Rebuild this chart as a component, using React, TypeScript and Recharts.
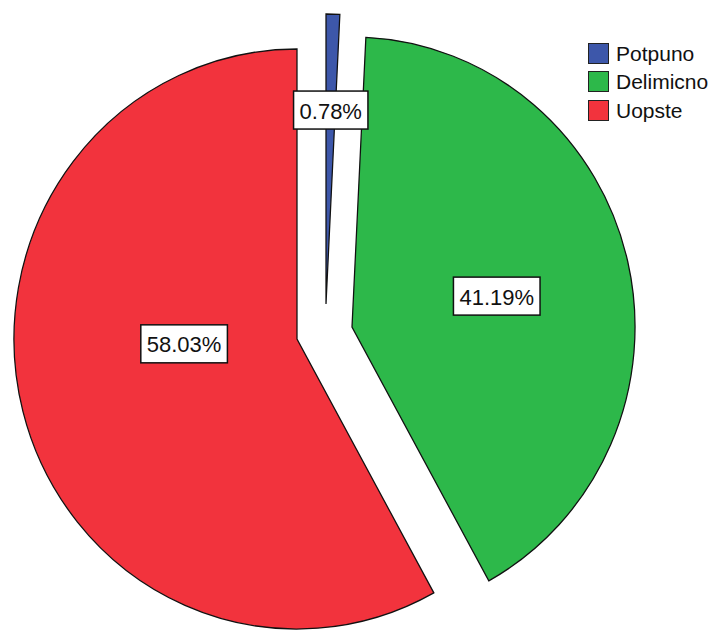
import React from 'react';
import { PieChart, Pie, Cell, Legend } from 'recharts';

const categories = ['Potpuno', 'Delimicno', 'Uopste'];
const values = [0.78, 41.19, 58.03];
const labels = ['0.78%', '41.19%', '58.03%'];

const COLORS = ['#3D57AA', '#2DB84A', '#F2333D'];
const CENTERS = [
  { cx: 326, cy: 304 },
  { cx: 352, cy: 327 },
  { cx: 297, cy: 339 },
];
const RADIUS = 290;
const X_SCALE = 0.976;
const LABEL_R = [194, 148, 113];
const LABEL_SHIFT = [0, -1, -12];
const FONT = '"Liberation Sans", Arial, sans-serif';
const LABEL_FONT = 22;

const data = categories.map((name, i) => ({ name, value: values[i], label: labels[i] }));

const charW = (s: string) => {
  let w = 0;
  for (const c of s) {
    if (c === '.') w += 0.278;
    else if (c === '%') w += 0.889;
    else w += 0.556;
  }
  return w;
};

const makeLabel = (own: number) => (props: any) => {
  if (props.index !== own) return null;
  const { cx, cy, midAngle } = props;
  const ang = ((midAngle + LABEL_SHIFT[own]) * Math.PI) / 180;
  const x = cx + Math.cos(-ang) * LABEL_R[own];
  const y = cy + Math.sin(-ang) * LABEL_R[own];
  const text = labels[own];
  const w = charW(text) * LABEL_FONT + 12;
  const h = 38;
  return (
    <g key={'lbl' + own}>
      <rect x={x - w / 2} y={y - h / 2} width={w} height={h} fill="#fff" stroke="#111" strokeWidth={1.5} />
      <text
        x={x}
        y={y + 1}
        textAnchor="middle"
        dominantBaseline="central"
        fontFamily={FONT}
        fontSize={LABEL_FONT}
        fill="#111"
      >
        {text}
      </text>
    </g>
  );
};

const renderLegend = () => (
  <div style={{ fontFamily: FONT, fontSize: 21, color: '#111' }}>
    {categories.map((c, i) => (
      <div key={c} style={{ display: 'flex', alignItems: 'center', height: 28.5 }}>
        <div
          style={{
            width: 19,
            height: 19,
            background: COLORS[i],
            border: '1px solid #222',
            marginRight: 7,
          }}
        />
        <span style={{ lineHeight: '21px' }}>{c}</span>
      </div>
    ))}
  </div>
);

const css = CENTERS.map(
  (c, i) =>
    `.pie-${i} .recharts-pie-sector { transform: scaleX(${X_SCALE}); transform-origin: ${c.cx}px ${c.cy}px; }`
).join('\n');

export default function App() {
  return (
    <div style={{ position: 'absolute', left: 0, top: 0, width: 717, height: 630, background: '#fff' }}>
      <style>{css}</style>
      <PieChart width={717} height={630} margin={{ top: 0, right: 0, bottom: 0, left: 0 }}>
        {CENTERS.map((c, i) => (
          <Pie
            key={i}
            className={`pie-${i}`}
            data={data}
            dataKey="value"
            nameKey="name"
            cx={c.cx}
            cy={c.cy}
            outerRadius={RADIUS}
            innerRadius={0}
            startAngle={90}
            endAngle={-270}
            isAnimationActive={false}
            label={makeLabel(i)}
            labelLine={false}
            legendType="none"
          >
            {data.map((d, j) => (
              <Cell
                key={d.name}
                fill={j === i ? COLORS[j] : 'none'}
                stroke={j === i ? '#111' : 'none'}
                strokeWidth={1.3}
              />
            ))}
          </Pie>
        ))}
        <Legend
          content={renderLegend}
          layout="vertical"
          verticalAlign="top"
          align="right"
          wrapperStyle={{ position: 'absolute', left: 588, top: 39, width: 129 }}
        />
      </PieChart>
    </div>
  );
}
